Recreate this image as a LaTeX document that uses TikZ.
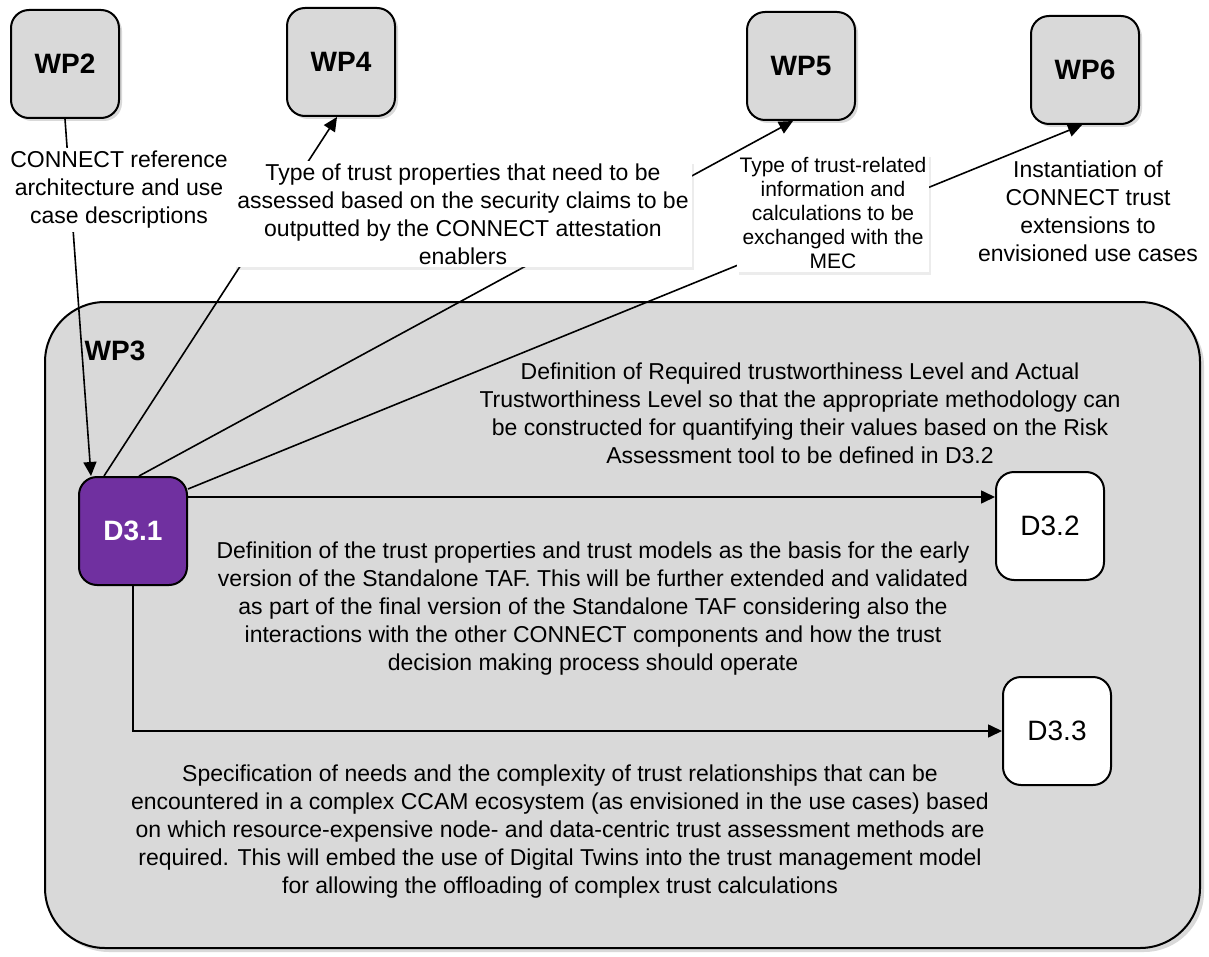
\documentclass[tikz,border=0pt]{standalone}
\usepackage{fontspec}
\setmainfont{Liberation Sans}
\usetikzlibrary{
    arrows.meta,
    positioning,
    shadows
}
\definecolor{boxgray}{HTML}{D9D9D9}
\definecolor{delpurple}{HTML}{7030A0}
\tikzset{
    wpbox/.style={
        draw,
        rectangle,
        rounded corners=9pt,
        minimum width=54pt,
        minimum height=54pt,
        line width=1pt,
        fill=boxgray,
        font=\fontsize{14}{16}\selectfont\bfseries,
        drop shadow={opacity=0.3, shadow xshift=1.5pt, shadow yshift=-1.5pt}
    },
    wpframe/.style={
        draw,
        rectangle,
        rounded corners=30pt,
        minimum width=577.5pt,
        minimum height=323pt,
        line width=1pt,
        fill=boxgray,
        drop shadow={opacity=0.3, shadow xshift=2pt, shadow yshift=-2pt}
    },
    delbox/.style={
        draw,
        rectangle,
        rounded corners=9pt,
        minimum width=54pt,
        minimum height=54pt,
        line width=1pt,
        fill=white,
        font=\fontsize{14}{16}\selectfont
    },
    delmain/.style={
        delbox,
        fill=delpurple,
        text=white,
        font=\fontsize{14}{16}\selectfont\bfseries
    },
    lab/.style={
        font=\fontsize{11.5}{14}\selectfont,
        align=center,
        inner sep=1.5pt
    },
    labw/.style={
        lab,
        fill=white
    },
    labsmall/.style={
        labw,
        font=\fontsize{10.5}{12}\selectfont
    },
    arr/.style={
        -{Triangle[length=7pt,width=6.5pt]},
        line width=0.8pt
    }
}

\begin{document}
\begin{tikzpicture}[x=0.5pt,y=-0.5pt]
\useasboundingbox (0,0) rectangle (1209,957);
% work packages
\node[wpbox] (wp2) at (65,64) {WP2};
\node[wpbox] (wp4) at (341,62) {WP4};
\node[wpbox] (wp5) at (801,66) {WP5};
\node[wpbox] (wp6) at (1085,70) {WP6};
% WP3 and its deliverables
\node[wpframe] (wp3) at (622.5,625) {};
\node[font=\fontsize{14}{16}\selectfont\bfseries] (wp3t) at (115,351) {WP3};
\node[delmain] (d31) at (133,531) {D3.1};
\node[delbox] (d32) at (1050,526) {D3.2};
\node[delbox] (d33) at (1057,731) {D3.3};
% connections
\draw[arr] (wp2.south) -- ([xshift=6.5pt]d31.north west);
\draw[arr] ([xshift=13pt]d31.north west) -- ([xshift=-2pt]wp4.south);
\draw[arr] ([xshift=30.5pt]d31.north west) -- ([xshift=-4pt]wp5.south);
\draw[arr] ([yshift=-6.5pt]d31.north east) -- ([xshift=-1.5pt]wp6.south);
\draw[arr] ([yshift=-10.5pt]d31.north east) coordinate (d31r) -- (d31r -| d32.west);
\draw[arr] (d31.south) |- (d33.west);
% labels
\node[labw] (l2) at (119,190) {CONNECT reference\\architecture and use\\case descriptions};
\node[labw, drop shadow={opacity=0.15, shadow xshift=1pt, shadow yshift=-1.5pt}] (l4) at (463,214) {Type of trust properties that need to be\\assessed based on the security claims to be\\outputted by the CONNECT attestation\\enablers};
\node[labsmall, drop shadow={opacity=0.15, shadow xshift=1pt, shadow yshift=-1.5pt}] (l5) at (833,213) {Type of trust-related\\information and\\calculations to be\\exchanged with the\\MEC};
\node[lab] (l6) at (1088,211) {Instantiation of\\CONNECT trust\\extensions to\\envisioned use cases};
\node[lab] (l32a) at (800,413) {Definition of Required trustworthiness Level and Actual\\Trustworthiness Level so that the appropriate methodology can\\be constructed for quantifying their values based on the Risk\\Assessment tool to be defined in D3.2};
\node[lab] (l32b) at (593,609) {Definition of the trust properties and trust models as the basis for the early\\version of the Standalone TAF. This will be further extended and validated\\as part of the final version of the Standalone TAF considering also the\\interactions with the other CONNECT components and how the trust\\decision making process should operate};
\node[lab] (l33) at (560,832) {Specification of needs and the complexity of trust relationships that can be\\encountered in a complex CCAM ecosystem (as envisioned in the use cases) based\\on which resource-expensive node- and data-centric trust assessment methods are\\required. This will embed the use of Digital Twins into the trust management model\\for allowing the offloading of complex trust calculations};
\end{tikzpicture}
\end{document}
